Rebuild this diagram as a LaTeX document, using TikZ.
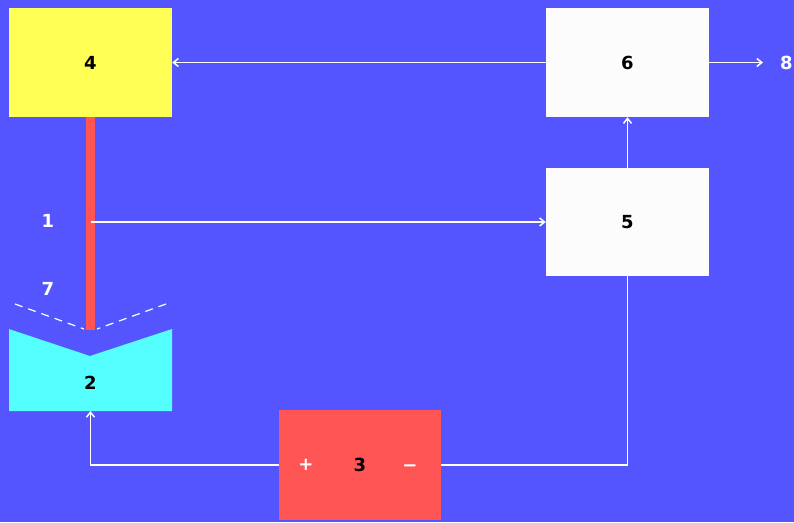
\documentclass[tikz,border=0pt]{standalone}
\usepackage{fontspec}
\setmainfont{DejaVu Sans}
\usepackage{tikz}
\usetikzlibrary{arrows.meta}
\definecolor{bg}{HTML}{5555FF}
\definecolor{lamp}{HTML}{FFFF55}
\definecolor{beam}{HTML}{FF5555}
\definecolor{cell}{HTML}{55FFFF}
\definecolor{panel}{HTML}{FCFCFC}
\tikzset{
  blk/.style={minimum width=163pt,minimum height=109pt,inner sep=0pt,
    font=\bfseries\fontsize{18}{21}\selectfont},
  wire/.style={white,line width=1.5pt},
  tip/.style={-{Straight Barb[length=5pt,width=8pt]}},
  lbl/.style={white,inner sep=0pt,font=\bfseries\fontsize{18}{21}\selectfont}
}

\begin{document}
\begin{tikzpicture}[x=1pt,y=-1pt]
      \fill[bg] (0,0) rectangle (794,522);
      \useasboundingbox (0,0) rectangle (794,522);
      % boxes
      \node[blk,fill=lamp] (b4) at (90.5,62.5) {4};
      \node[blk,fill=panel] (b6) at (627.5,62.5) {6};
      \node[blk,fill=panel,minimum height=108pt] (b5) at (627.5,222) {5};
      \node[blk,fill=beam,minimum width=162pt,minimum height=110pt] (b3) at (360,465) {3};
      % beam and cell
      \fill[beam] (86,117) rectangle (95,330);
      \fill[cell] (9,329) -- (90,356) -- (172,329) -- (172,411) -- (9,411) -- cycle;
      \node[inner sep=0pt,font=\bfseries\fontsize{18}{21}\selectfont] (b2) at (90.5,383) {2};
      \coordinate (src) at (91,222);
      \coordinate (cellbot) at (90.5,411);
      \coordinate (out) at (763,62.5);
      \draw[white,line width=1.2pt,dash pattern=on 8pt off 6pt] (15,304) -- (84,329);
      \draw[white,line width=1.2pt,dash pattern=on 8pt off 6pt] (166,304) -- (97,329);
      % labels
      \node[lbl] (l1) at (48,221) {1};
      \node[lbl] (l7) at (48,289) {7};
      \node[lbl,anchor=west] (l8) at (780,62.5) {8};
      \node[lbl] (plus) at (306,465) {+};
      \node[lbl] (minus) at (410,468) {\textminus};
      % connectors
      \draw[wire,tip] (b6) -- (b4);
      \draw[wire,tip] (b5) -- (b6);
      \draw[wire,tip] (b6.east) -- (out);
      \draw[wire,tip] (src) -- (src -| b5.west);
      \draw[wire] (b3.east) -| (b5.south);
      \draw[wire,tip] (b3.west) -| (cellbot);
    \end{tikzpicture}
\end{document}
